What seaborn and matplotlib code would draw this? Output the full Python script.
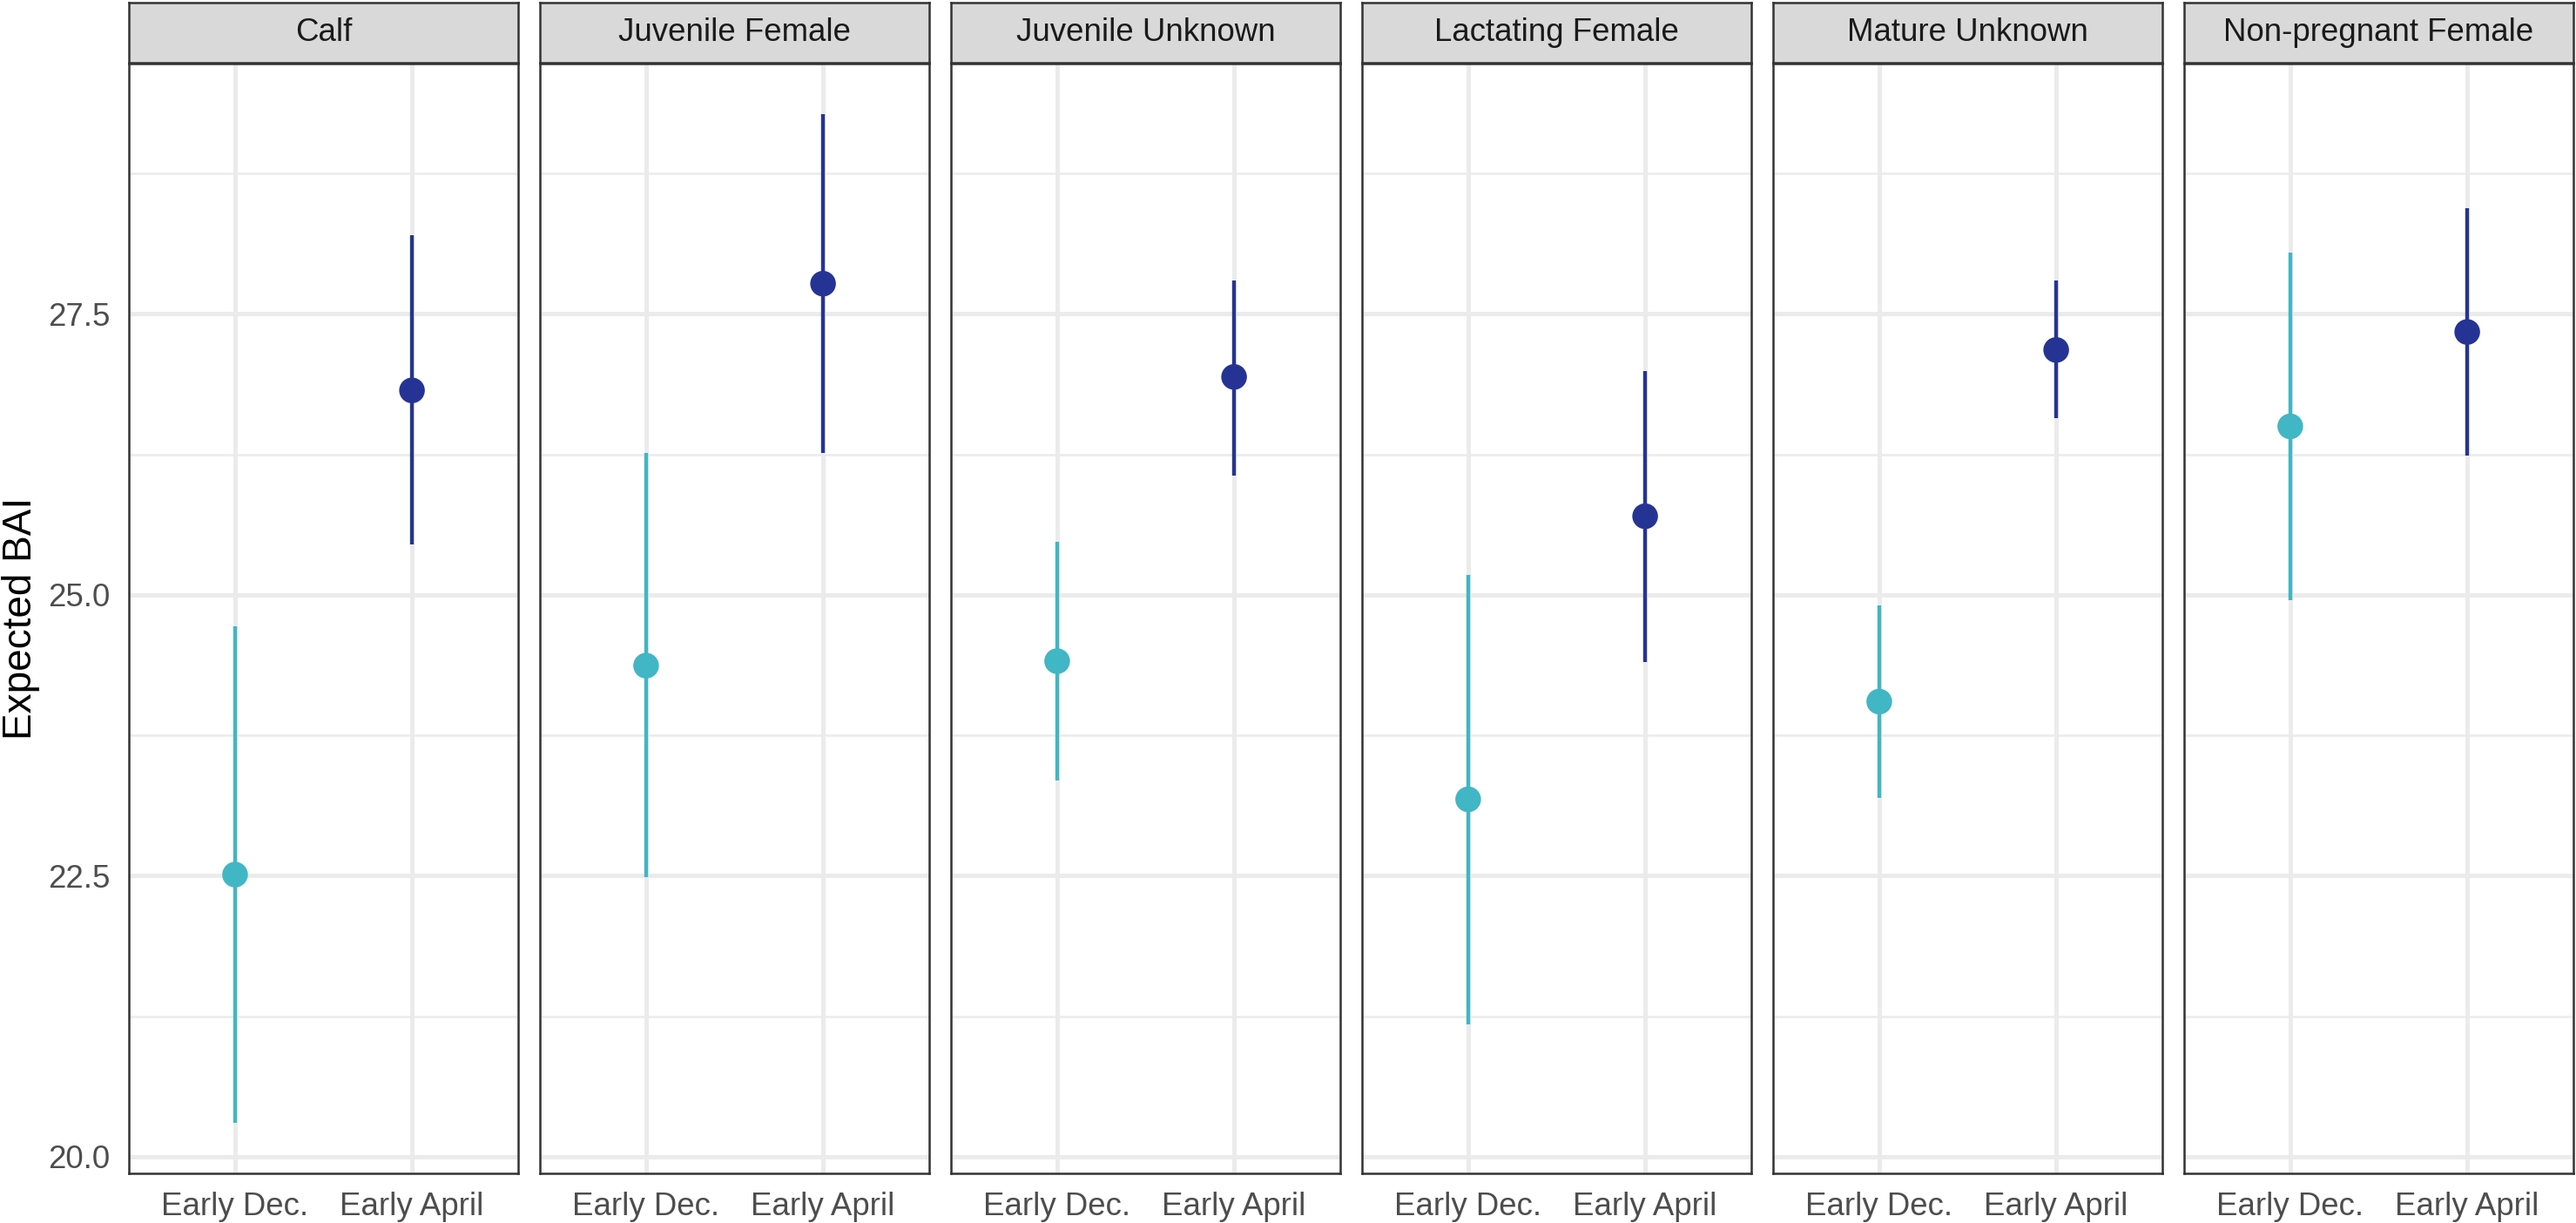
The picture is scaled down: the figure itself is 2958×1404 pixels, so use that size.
import matplotlib
matplotlib.use('Agg')
import matplotlib.pyplot as plt
import seaborn as sns
import pandas as pd

# Values
groups = ['Calf', 'Juvenile Female', 'Juvenile Unknown',
          'Lactating Female', 'Mature Unknown', 'Non-pregnant Female']
periods = ['Early Dec.', 'Early April']

dec_mean = [22.51, 24.37, 24.41, 23.18, 24.05, 26.50]
dec_low = [20.30, 22.49, 23.35, 21.18, 23.19, 24.95]
dec_high = [24.72, 26.26, 25.47, 25.18, 24.91, 28.05]

apr_mean = [26.82, 27.77, 26.94, 25.70, 27.18, 27.34]
apr_low = [25.45, 26.26, 26.06, 24.40, 26.57, 26.24]
apr_high = [28.20, 29.28, 27.80, 26.99, 27.80, 28.44]

period_colors = {'Early Dec.': '#41B6C4', 'Early April': '#253494'}

# Long table for the facet grid
rows = []
for i, grp in enumerate(groups):
    rows.append([grp, periods[0], 0, dec_mean[i], dec_low[i], dec_high[i]])
    rows.append([grp, periods[1], 1, apr_mean[i], apr_low[i], apr_high[i]])
df = pd.DataFrame(rows, columns=['group', 'period', 'pos', 'mean', 'low', 'high'])

sns.set_theme(style='white')
plt.rcParams['font.family'] = ['Liberation Sans', 'DejaVu Sans']


def draw_range(data, **kws):
    ax = plt.gca()
    ax.vlines(data['pos'], data['low'], data['high'],
              colors=data['period'].map(period_colors), lw=1.05, zorder=3)
    sns.scatterplot(data=data, x='pos', y='mean', hue='period', hue_order=periods,
                    palette=period_colors, s=50, linewidth=0, legend=False,
                    ax=ax, zorder=4)


g = sns.FacetGrid(df, col='group', col_order=groups, sharey=True, sharex=True,
                  height=4.68, aspect=0.3, despine=False)
g.map_dataframe(draw_range)
g.set_titles('')
g.set_axis_labels('', '')

fig = g.figure
fig.set_size_inches(2958 / 300, 1404 / 300)
fig.subplots_adjust(left=148 / 2958, right=2955 / 2958,
                    bottom=1 - 1347 / 1404, top=1 - 73 / 1404,
                    wspace=25 / 447)

# y range with 5% expansion, like the original
lo = min(dec_low + apr_low)
hi = max(dec_high + apr_high)
pad = 0.05 * (hi - lo)

grid_col = '#EBEBEB'
border_col = '#333333'

for j, ax in enumerate(g.axes.flat):
    ax.set_xlim(-0.6, 1.6)
    ax.set_ylim(lo - pad, hi + pad)
    ax.set_xticks([0, 1])
    ax.set_xticklabels(periods)
    ax.set_yticks([20.0, 22.5, 25.0, 27.5])
    ax.set_yticks([21.25, 23.75, 26.25, 28.75], minor=True)
    ax.set_yticklabels(['20.0', '22.5', '25.0', '27.5'])
    ax.set_axisbelow(True)
    ax.grid(which='major', color=grid_col, lw=1.2)
    ax.grid(which='minor', axis='y', color=grid_col, lw=0.6)
    ax.set_xlabel('')
    ax.set_ylabel('')
    for sp in ax.spines.values():
        sp.set_visible(True)
        sp.set_color(border_col)
        sp.set_linewidth(0.6)
    ax.tick_params(axis='both', which='major', length=2.75, width=1.0,
                   color=border_col, labelcolor='#4D4D4D', labelsize=8.8, pad=2.4)
    ax.tick_params(axis='y', which='minor', length=0)
    if j > 0:
        ax.tick_params(axis='y', which='major', length=0, labelleft=False)

    # strip on top of each panel
    pos = ax.get_position()
    sax = fig.add_axes([pos.x0, 1 - 72 / 1404, pos.width, 69 / 1404])
    sax.set_facecolor('#D9D9D9')
    sax.set_xticks([])
    sax.set_yticks([])
    for sp in sax.spines.values():
        sp.set_color(border_col)
        sp.set_linewidth(0.6)
    sax.text(0.5, 0.5, groups[j], ha='center', va='center',
             fontsize=8.8, color='#1A1A1A', transform=sax.transAxes)

fig.text(0.008, 1 - 710 / 1404, 'Expected BAI', rotation=90,
         ha='center', va='center', fontsize=11, color='black')

fig.savefig('out.png', dpi=300, facecolor='white')
